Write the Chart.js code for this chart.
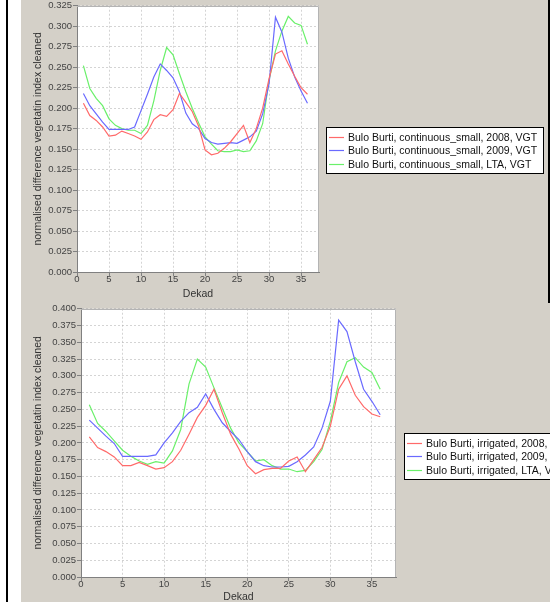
<!DOCTYPE html>
<html>
<head>
<meta charset="utf-8">
<script src="https://cdn.jsdelivr.net/npm/chart.js@4.4.0/dist/chart.umd.min.js"></script>
<style>
  html, body { margin: 0; padding: 0; background: #fff; }
  #page { position: relative; width: 550px; height: 602px; overflow: hidden; }
  .rule { position: absolute; background: #000; }
  .panel { position: absolute; background: #d4d0c8; }
</style>
</head>
<body>
<div id="page">
  <div class="rule" style="left:6px;top:0;width:2px;height:602px"></div>
  <div class="rule" style="left:548px;top:0;width:2px;height:303px"></div>
  <canvas id="topChart" class="panel" width="527" height="303" style="left:21px;top:0"></canvas>
  <canvas id="bottomChart" class="panel" width="529" height="299" style="left:21px;top:303px"></canvas>
</div>
<script>
// Dekads on the x axis
const dekads = [1, 2, 3, 4, 5, 6, 7, 8, 9, 10, 11, 12, 13, 14, 15, 16, 17, 18,
                19, 20, 21, 22, 23, 24, 25, 26, 27, 28, 29, 30, 31, 32, 33, 34, 35, 36];
const xTicks = [0, 5, 10, 15, 20, 25, 30, 35];
const yTicksTop = [0, 0.025, 0.05, 0.075, 0.1, 0.125, 0.15, 0.175, 0.2, 0.225, 0.25, 0.275, 0.3, 0.325];
const yTicksBottom = [0, 0.025, 0.05, 0.075, 0.1, 0.125, 0.15, 0.175, 0.2, 0.225, 0.25, 0.275, 0.3, 0.325, 0.35, 0.375, 0.4];

const labelsTop = [
    'Bulo Burti, continuous_small, 2008, VGT',
    'Bulo Burti, continuous_small, 2009, VGT',
    'Bulo Burti, continuous_small, LTA, VGT'
];
const labelsBottom = [
    'Bulo Burti, irrigated, 2008, VGT',
    'Bulo Burti, irrigated, 2009, VGT',
    'Bulo Burti, irrigated, LTA, VGT'
];

// continuous_small
const small2008 = [0.206, 0.191, 0.185, 0.177, 0.166, 0.167, 0.172, 0.169, 0.166, 0.162, 0.171, 0.186,
                   0.192, 0.190, 0.198, 0.218, 0.207, 0.196, 0.178, 0.149, 0.143, 0.145, 0.151, 0.159,
                   0.169, 0.179, 0.158, 0.175, 0.200, 0.236, 0.266, 0.270, 0.254, 0.239, 0.225, 0.217];
const small2009 = [0.218, 0.203, 0.193, 0.183, 0.174, 0.174, 0.174, 0.174, 0.177, 0.197, 0.217, 0.238,
                   0.254, 0.246, 0.237, 0.220, 0.194, 0.181, 0.175, 0.163, 0.158, 0.156, 0.157, 0.158,
                   0.157, 0.161, 0.165, 0.172, 0.193, 0.230, 0.311, 0.293, 0.261, 0.238, 0.221, 0.206];
const smallLTA  = [0.252, 0.224, 0.212, 0.203, 0.187, 0.179, 0.175, 0.173, 0.173, 0.169, 0.179, 0.209,
                   0.246, 0.274, 0.265, 0.242, 0.220, 0.200, 0.182, 0.165, 0.156, 0.148, 0.147, 0.147,
                   0.149, 0.147, 0.148, 0.160, 0.181, 0.234, 0.270, 0.294, 0.312, 0.304, 0.301, 0.278];

// irrigated
const irr2008 = [0.209, 0.193, 0.187, 0.179, 0.166, 0.166, 0.171, 0.166, 0.161, 0.163, 0.172, 0.189,
                 0.213, 0.238, 0.256, 0.280, 0.245, 0.213, 0.191, 0.166, 0.154, 0.160, 0.162, 0.162,
                 0.173, 0.179, 0.157, 0.175, 0.193, 0.225, 0.280, 0.300, 0.271, 0.254, 0.243, 0.239];
const irr2009 = [0.234, 0.222, 0.210, 0.199, 0.180, 0.180, 0.180, 0.180, 0.182, 0.200, 0.215, 0.232,
                 0.245, 0.253, 0.273, 0.250, 0.230, 0.217, 0.205, 0.187, 0.172, 0.166, 0.164, 0.164,
                 0.165, 0.172, 0.182, 0.194, 0.222, 0.262, 0.383, 0.366, 0.321, 0.280, 0.262, 0.242];
const irrLTA  = [0.257, 0.229, 0.217, 0.203, 0.189, 0.180, 0.173, 0.168, 0.172, 0.170, 0.188, 0.220,
                 0.288, 0.325, 0.313, 0.282, 0.252, 0.222, 0.200, 0.187, 0.173, 0.175, 0.166, 0.161,
                 0.161, 0.157, 0.159, 0.172, 0.190, 0.232, 0.290, 0.321, 0.327, 0.313, 0.305, 0.280];

const FONT = '"Liberation Sans", Arial, sans-serif';
Chart.defaults.font.family = FONT;
const seriesColors = ['#ff6a6a', '#6a6aff', '#6af06a'];

// white plot background + light outline on top/right
const plotFrame = {
    id: 'plotFrame',
    beforeDraw(chart) {
        const a = chart.chartArea, ctx = chart.ctx;
        ctx.save();
        ctx.fillStyle = '#fff';
        ctx.fillRect(a.left, a.top, a.right - a.left, a.bottom - a.top);
        ctx.restore();
    },
    afterDraw(chart) {
        const a = chart.chartArea, ctx = chart.ctx;
        ctx.save();
        ctx.strokeStyle = '#b4b4b4';
        ctx.lineWidth = 1;
        ctx.beginPath();
        ctx.moveTo(a.left, Math.round(a.top) + 0.5);
        ctx.lineTo(Math.round(a.right) - 0.5, Math.round(a.top) + 0.5);
        ctx.lineTo(Math.round(a.right) - 0.5, a.bottom);
        ctx.stroke();
        ctx.restore();
    }
};

// boxed legend like the original
const boxLegend = {
    id: 'boxLegend',
    afterDraw(chart, args, o) {
        const ctx = chart.ctx;
        ctx.save();
        ctx.fillStyle = '#fff';
        ctx.fillRect(o.x, o.y, o.w, o.h);
        ctx.strokeStyle = '#000';
        ctx.lineWidth = 1;
        ctx.strokeRect(o.x + 0.5, o.y + 0.5, o.w, o.h);
        ctx.font = '10.5px ' + FONT;
        ctx.textBaseline = 'middle';
        chart.data.datasets.forEach((ds, i) => {
            const cy = Math.round(o.y + o.first + i * o.step);
            ctx.beginPath();
            ctx.strokeStyle = seriesColors[i];
            ctx.lineWidth = 1.2;
            ctx.moveTo(o.x + 3, cy + 0.5);
            ctx.lineTo(o.x + 18, cy + 0.5);
            ctx.stroke();
            ctx.fillStyle = '#111';
            ctx.fillText(ds.label, o.x + 22, cy + 1);
        });
        ctx.restore();
    }
};

function makeChart(id, series, labels, yTicks, cfg) {
    const ctx = document.getElementById(id).getContext('2d');
    return new Chart(ctx, {
        type: 'line',
        data: {
            datasets: series.map((values, i) => ({
                label: labels[i],
                data: dekads.map((d, j) => ({ x: d, y: values[j] })),
                borderColor: seriesColors[i],
                borderWidth: 1.2,
                pointRadius: 0,
                tension: 0,
                fill: false
            }))
        },
        options: {
            responsive: false,
            animation: false,
            layout: { padding: cfg.padding },
            plugins: {
                legend: { display: false },
                tooltip: { enabled: false },
                boxLegend: cfg.legend
            },
            scales: {
                x: {
                    type: 'linear',
                    min: 0,
                    max: cfg.xMax,
                    afterBuildTicks: s => { s.ticks = xTicks.map(v => ({ value: v })); },
                    afterFit: s => { s.height = cfg.xHeight; },
                    ticks: {
                        color: '#444',
                        font: { size: 9.5, lineHeight: 1 },
                        padding: -1,
                        maxRotation: 0,
                        autoSkip: false
                    },
                    grid: {
                        color: 'rgba(170,170,170,0.5)',
                        tickColor: '#808080',
                        tickLength: 4
                    },
                    border: { color: '#808080', dash: [2, 2] },
                    title: {
                        display: true,
                        text: 'Dekad',
                        color: '#333',
                        font: { size: 10.5 },
                        padding: { top: 0, bottom: cfg.xTitlePad }
                    }
                },
                y: {
                    min: 0,
                    max: yTicks[yTicks.length - 1],
                    afterBuildTicks: s => { s.ticks = yTicks.map(v => ({ value: v })); },
                    afterFit: s => { s.width = cfg.yWidth; },
                    ticks: {
                        color: '#444',
                        font: { size: 9.5, lineHeight: 1 },
                        padding: 1,
                        callback: v => v.toFixed(3)
                    },
                    grid: {
                        color: 'rgba(170,170,170,0.5)',
                        tickColor: '#808080',
                        tickLength: 4
                    },
                    border: { color: '#808080', dash: [2, 2] },
                    title: {
                        display: true,
                        text: 'normalised difference vegetatin index cleaned',
                        color: '#333',
                        font: { size: 10.5 },
                        padding: { top: 3, bottom: 0 }
                    }
                }
            }
        },
        plugins: [plotFrame, boxLegend]
    });
}

makeChart('topChart', [small2008, small2009, smallLTA], labelsTop, yTicksTop, {
    padding: { left: 8, top: 5, right: 229, bottom: 0 },
    xMax: 37.8,
    xHeight: 31,
    yWidth: 48,
    xTitlePad: 3,
    legend: { x: 305, y: 127, w: 217, h: 46, first: 9.5, step: 13.5 }
});

makeChart('bottomChart', [irr2008, irr2009, irrLTA], labelsBottom, yTicksBottom, {
    padding: { left: 8, top: 4, right: 154, bottom: 0 },
    xMax: 37.9,
    xHeight: 25,
    yWidth: 52,
    xTitlePad: -1,
    legend: { x: 383, y: 130, w: 217, h: 46, first: 9.5, step: 13.5 }
});
</script>
</body>
</html>
